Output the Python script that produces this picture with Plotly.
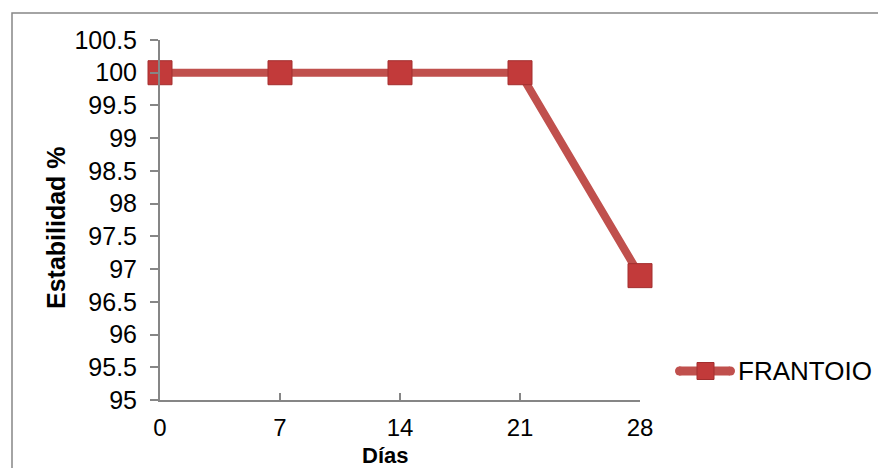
import plotly.graph_objects as go

dias = [0, 7, 14, 21, 28]
estabilidad = [100, 100, 100, 100, 96.9]
serie = "FRANTOIO"
y_ticks = [95, 95.5, 96, 96.5, 97, 97.5, 98, 98.5, 99, 99.5, 100, 100.5]
y_tick_text = ["95", "95.5", "96", "96.5", "97", "97.5", "98", "98.5", "99", "99.5", "100", "100.5"]

FONT = "Liberation Sans, Arial, sans-serif"
LINE_COLOR = "#C0504D"
MARKER_COLOR = "#C23A3A"

# plot area in pixels: x 160..640, y 40..400
L, R, T, B = 160, 640, 40, 400
W, H = 878, 468
PW, PH = R - L, B - T


def px(x):
    return (x - L) / PW


def py(y):
    return (B - y) / PH


fig = go.Figure()
fig.add_trace(go.Scatter(
    x=dias, y=estabilidad, name=serie, mode="lines+markers",
    line=dict(color=LINE_COLOR, width=8),
    marker=dict(symbol="square", size=24, color=MARKER_COLOR,
                line=dict(color="#A32E2E", width=1)),
    cliponaxis=False, showlegend=False,
))

# legend drawn manually (Excel-style long line sample)
legend_y = py(371)
shapes = [
    dict(type="rect", xref="paper", yref="paper",
         x0=px(12), x1=px(900), y0=py(520), y1=py(13),
         line=dict(color="#878787", width=1.5), layer="below"),
    dict(type="line", xref="paper", yref="paper",
         x0=px(679), x1=px(730), y0=legend_y, y1=legend_y,
         line=dict(color=LINE_COLOR, width=9)),
    dict(type="circle", xref="paper", yref="paper",
         x0=px(675), x1=px(684), y0=py(375.5), y1=py(366.5),
         line=dict(width=0), fillcolor=LINE_COLOR),
    dict(type="circle", xref="paper", yref="paper",
         x0=px(726), x1=px(735), y0=py(375.5), y1=py(366.5),
         line=dict(width=0), fillcolor=LINE_COLOR),
    dict(type="rect", xref="paper", yref="paper",
         x0=px(697), x1=px(714), y0=py(379.5), y1=py(362.5),
         line=dict(color="#A32E2E", width=1), fillcolor=MARKER_COLOR),
]

fig.update_layout(
    width=W, height=H,
    margin=dict(l=L, r=W - R, t=T, b=H - B, autoexpand=False),
    paper_bgcolor="white", plot_bgcolor="white",
    font=dict(family=FONT, size=25, color="black"),
    showlegend=False,
    xaxis=dict(range=[0, 28], tickvals=dias, ticktext=[str(d) for d in dias],
               showgrid=False, zeroline=False, showline=True, automargin=False,
               linecolor="#868686", linewidth=2, ticks="inside", ticklen=7,
               tickcolor="#868686", tickwidth=2, ticklabelstandoff=5,
               tickfont=dict(size=24, family=FONT, color="black")),
    yaxis=dict(range=[95, 100.5], tickvals=y_ticks, ticktext=y_tick_text,
               showgrid=False, zeroline=False, showline=True, automargin=False,
               linecolor="#868686", linewidth=2, ticks="outside", ticklen=8,
               tickcolor="#868686", tickwidth=2, ticklabelstandoff=8,
               tickfont=dict(size=25, family=FONT, color="black")),
    shapes=shapes,
    annotations=[
        dict(text="<b>Estabilidad %</b>", xref="paper", yref="paper",
             x=px(56), y=py(228), textangle=-90, showarrow=False,
             font=dict(size=25, family=FONT, color="black"),
             xanchor="center", yanchor="middle"),
        dict(text="<b>Días</b>", xref="paper", yref="paper",
             x=px(385), y=py(456), showarrow=False, borderpad=0,
             font=dict(size=22, family=FONT, color="black"),
             xanchor="center", yanchor="middle"),
        dict(text=serie, xref="paper", yref="paper",
             x=px(736), y=legend_y, showarrow=False,
             font=dict(size=26, family=FONT, color="black"),
             xanchor="left", yanchor="middle"),
    ],
)

fig.write_html(
    "out.html",
    config={"displayModeBar": False},
    post_script="document.body.style.margin='0px';document.body.style.overflow='hidden';",
)
